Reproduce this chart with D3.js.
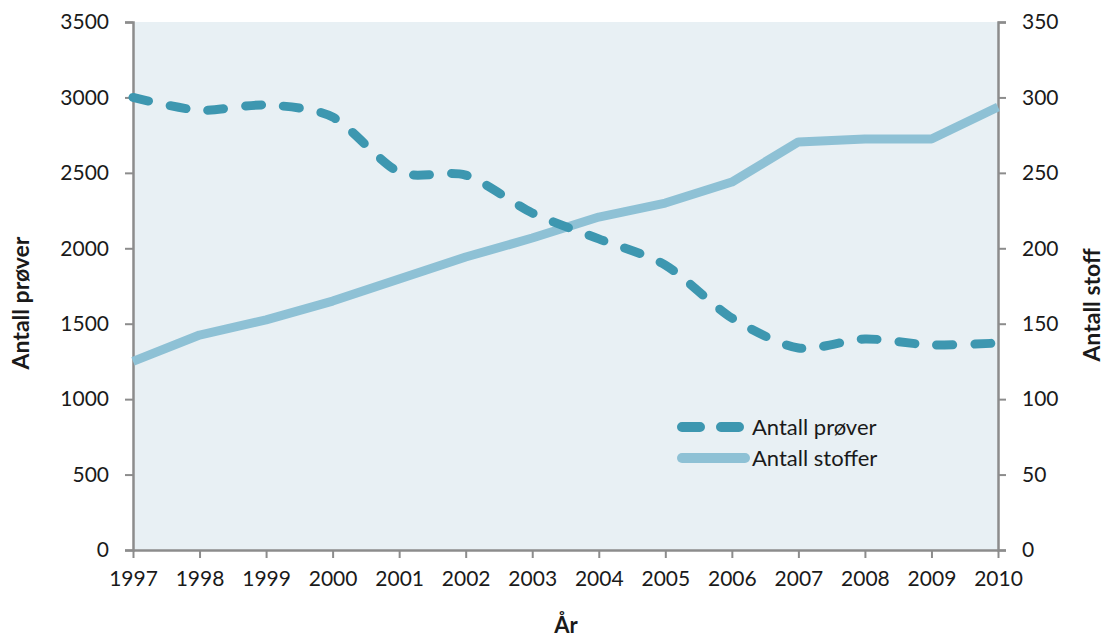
<!DOCTYPE html>
<html>
<head>
<meta charset="utf-8">
<script src="https://cdn.jsdelivr.net/npm/d3@7"></script>
<style>
    body { margin: 0; background: #fff; }
    svg { display: block; font-family: Lato, "Open Sans", sans-serif; }
    .tick text { fill: #1a1a1a; font-size: 21px; font-family: Lato, "Open Sans", sans-serif; }
</style>
</head>
<body>
<svg id="chart" width="1106" height="637"></svg>
<script>
    // data
    var years = [1997, 1998, 1999, 2000, 2001, 2002, 2003, 2004, 2005, 2006, 2007, 2008, 2009, 2010];
    var antallProver = [3000, 2915, 2950, 2870, 2505, 2485, 2234, 2062, 1889, 1538, 1339, 1399, 1359, 1372];
    var antallStoffer = [125, 142.5, 152.5, 165, 179.7, 194.2, 206.8, 220.7, 230, 243.9, 270.5, 272.4, 272.4, 293.7];
    var leftTicks = [0, 500, 1000, 1500, 2000, 2500, 3000, 3500];
    var rightTicks = [0, 50, 100, 150, 200, 250, 300, 350];
    var seriesNames = ["Antall prøver", "Antall stoffer"];

    (function () {
        var svg = d3.select("#chart");
        var plotLeft = 133, plotRight = 998, plotTop = 22, plotBottom = 550;
        var axisColor = "#8c8c8c";
        var darkColor = "#3d97b0";
        var lightColor = "#8ec1d5";

        var x = d3.scaleLinear().domain([1997, 2010]).range([plotLeft, plotRight]);
        var yL = d3.scaleLinear().domain([0, 3500]).range([plotBottom, plotTop]);
        var yR = d3.scaleLinear().domain([0, 350]).range([plotBottom, plotTop]);

        // plot background
        svg.append("rect")
            .attr("x", plotLeft).attr("y", plotTop)
            .attr("width", plotRight - plotLeft).attr("height", plotBottom - plotTop)
            .attr("fill", "#e8f0f4");

        // axes
        var styleAxis = function (g) {
            g.selectAll(".domain").attr("stroke", axisColor).attr("stroke-width", 2.5);
            g.selectAll(".tick line").attr("stroke", axisColor).attr("stroke-width", 2);
        };

        svg.append("g")
            .attr("transform", "translate(" + plotLeft + ",0)")
            .call(d3.axisLeft(yL).tickValues(leftTicks).tickFormat(d3.format("d"))
                .tickSizeInner(8).tickSizeOuter(8).tickPadding(16))
            .call(styleAxis);

        svg.append("g")
            .attr("transform", "translate(" + plotRight + ",0)")
            .call(d3.axisRight(yR).tickValues(rightTicks).tickFormat(d3.format("d"))
                .tickSizeInner(8).tickSizeOuter(8).tickPadding(16))
            .call(styleAxis);

        svg.append("g")
            .attr("transform", "translate(0," + plotBottom + ")")
            .call(d3.axisBottom(x).tickValues(years).tickFormat(d3.format("d"))
                .tickSizeInner(8).tickSizeOuter(0).tickPadding(13))
            .call(styleAxis);

        // axis titles
        svg.append("text")
            .attr("transform", "translate(29,303) rotate(-90)")
            .attr("text-anchor", "middle")
            .attr("font-size", 23).attr("font-weight", "bold").attr("fill", "#1a1a1a")
            .text("Antall prøver");

        svg.append("text")
            .attr("transform", "translate(1100,305) rotate(-90)")
            .attr("text-anchor", "middle")
            .attr("font-size", 23).attr("font-weight", "bold").attr("fill", "#1a1a1a")
            .text("Antall stoff");

        svg.append("text")
            .attr("x", 566).attr("y", 633)
            .attr("text-anchor", "middle")
            .attr("font-size", 22).attr("font-weight", "bold").attr("fill", "#1a1a1a")
            .text("År");

        // lines
        var lineStoffer = d3.line()
            .x(function (d, i) { return x(years[i]); })
            .y(function (d) { return yR(d); });

        var lineProver = d3.line()
            .x(function (d, i) { return x(years[i]); })
            .y(function (d) { return yL(d); })
            .curve(d3.curveCardinal.tension(0.2));

        svg.append("path")
            .datum(antallStoffer)
            .attr("d", lineStoffer)
            .attr("fill", "none")
            .attr("stroke", lightColor)
            .attr("stroke-width", 9)
            .attr("stroke-linejoin", "round");

        svg.append("path")
            .datum(antallProver)
            .attr("d", lineProver)
            .attr("fill", "none")
            .attr("stroke", darkColor)
            .attr("stroke-width", 9)
            .attr("stroke-linecap", "round")
            .attr("stroke-dasharray", "16,22");

        // legend
        var legend = svg.append("g");
        legend.append("line")
            .attr("x1", 682).attr("x2", 741).attr("y1", 427).attr("y2", 427)
            .attr("stroke", darkColor).attr("stroke-width", 10)
            .attr("stroke-linecap", "round").attr("stroke-dasharray", "18,21");
        legend.append("line")
            .attr("x1", 682).attr("x2", 745).attr("y1", 458).attr("y2", 458)
            .attr("stroke", lightColor).attr("stroke-width", 10)
            .attr("stroke-linecap", "round");

        legend.selectAll("text.leg")
            .data(seriesNames)
            .enter()
            .append("text")
            .attr("class", "leg")
            .attr("x", 752)
            .attr("y", function (d, i) { return 435 + i * 31; })
            .attr("font-size", 22).attr("fill", "#1a1a1a")
            .text(function (d) { return d; });
    })();
</script>
</body>
</html>
